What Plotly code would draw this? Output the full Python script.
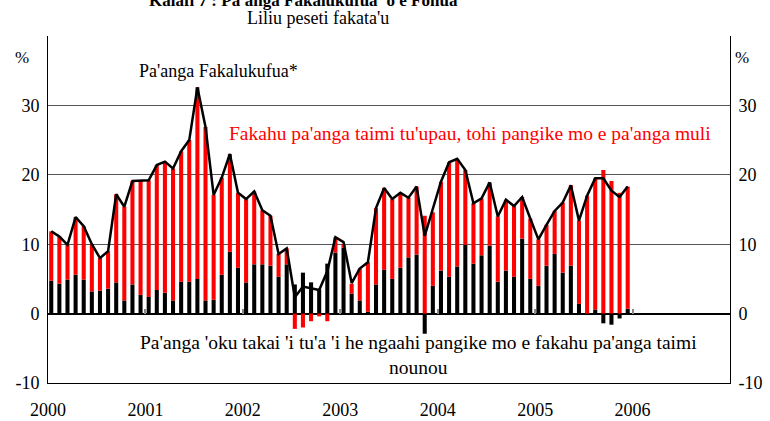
import plotly.graph_objects as go

# ---- data (monthly, Jan 2000 - Dec 2005) ----
years = [2000, 2001, 2002, 2003, 2004, 2005, 2006]
year_labels = ["2000", "2001", "2002", "2003", "2004", "2005", "2006"]

# Pa'anga 'oku takai 'i tu'a 'i he ngaahi pangike mo e fakahu pa'anga taimi nounou (black)
narrow_money = [4.75, 4.3, 4.9, 5.6, 4.9, 3.2, 3.3, 3.6, 4.5, 1.9, 4.2, 2.7,
                2.4, 3.4, 3.0, 1.9, 4.6, 4.6, 5.0, 1.9, 2.0, 5.6, 8.9, 6.6,
                4.5, 7.1, 7.1, 6.9, 5.3, 7.1, 4.2, 5.9, 4.5, 3.5, 7.2, 8.8,
                9.5, 2.9, 1.9, 0.3, 4.2, 6.3, 5.0, 6.6, 8.1, 8.5, -2.9, 4.0,
                6.2, 5.3, 6.8, 9.9, 7.2, 8.4, 9.8, 4.6, 6.2, 5.3, 10.8, 5.0,
                4.0, 6.9, 8.6, 5.9, 6.9, 1.4, 0.0, 0.6, -1.4, -1.6, -0.7, 0.7]

# Fakahu pa'anga taimi tu'upau, tohi pangike mo e pa'anga muli (red)
quasi_money = [7.1, 6.8, 5.0, 8.3, 7.7, 6.8, 4.7, 5.4, 12.7, 13.5, 14.9, 16.4,
               16.8, 18.0, 18.9, 19.0, 18.8, 20.4, 27.6, 25.0, 15.1, 14.0, 14.1, 10.8,
               12.0, 10.5, 7.8, 7.2, 3.3, 2.3, -2.2, -2.0, -1.1, -0.4, -1.1, 2.2,
               0.5, 1.4, 4.6, 7.1, 11.0, 11.8, 11.5, 10.8, 8.6, 9.8, 14.1, 10.6,
               12.8, 16.5, 15.5, 10.8, 8.7, 8.2, 9.1, 9.4, 10.2, 10.2, 6.0, 8.7,
               6.7, 5.9, 6.2, 10.1, 11.6, 12.0, 17.0, 18.9, 20.7, 19.1, 17.4, 17.6]

# Pa'anga Fakalukufua* (line)
broad_money = [11.85, 11.1, 9.9, 13.9, 12.6, 10.0, 8.0, 9.0, 17.2, 15.4, 19.1, 19.1,
               19.2, 21.4, 21.9, 20.9, 23.4, 25.0, 32.6, 26.9, 17.1, 19.6, 23.0, 17.4,
               16.5, 17.6, 14.9, 14.1, 8.6, 9.4, 2.35, 3.9, 3.6, 3.4, 6.1, 11.0,
               10.3, 4.4, 6.5, 7.4, 15.2, 18.1, 16.5, 17.4, 16.7, 18.3, 11.2, 15.2,
               19.0, 21.8, 22.3, 20.7, 15.9, 16.6, 18.9, 14.0, 16.4, 15.5, 16.8, 13.7,
               10.7, 12.8, 14.8, 16.0, 18.5, 13.4, 17.0, 19.5, 19.5, 17.7, 16.8, 18.3]

n = len(broad_money)
xpos = [2000 + (i + 0.4) / 12 for i in range(n)]

FONT = "Liberation Serif, Times New Roman, DejaVu Serif, serif"
XR = [2000, 2007]
YR = [-10, 40]
ytick = [-10, 0, 10, 20, 30, 40]
ytext = ["-10", "0", "10", "20", "30", ""]

fig = go.Figure()
fig.add_trace(go.Bar(x=xpos, y=narrow_money, width=0.5 / 12, marker_color="#000000",
                     marker_line_width=0, showlegend=False))
fig.add_trace(go.Bar(x=xpos, y=quasi_money, width=0.5 / 12, marker_color="#FF0000",
                     marker_line_width=0, showlegend=False))
fig.add_trace(go.Scatter(x=xpos, y=broad_money, mode="lines", xaxis="x2", yaxis="y2",
                         line=dict(color="#000000", width=2.5), showlegend=False))

fig.update_layout(
    width=770, height=421,
    margin=dict(l=48, r=40, t=36, b=38, autoexpand=False),
    paper_bgcolor="white", plot_bgcolor="white",
    barmode="relative",
    font=dict(family=FONT, size=16, color="#000"),
    xaxis=dict(range=XR, tickvals=years, ticktext=year_labels, showgrid=False,
               zeroline=False, showline=True, linecolor="#000", linewidth=1,
               ticks="", ticklabelstandoff=10, tickfont=dict(size=18),
               automargin=False),
    xaxis2=dict(range=XR, overlaying="x", anchor="free", position=0.2,
                tickvals=years, showticklabels=False, ticks="inside", ticklen=5,
                tickwidth=1.5, tickcolor="#888", showgrid=False, zeroline=False,
                showline=False, automargin=False),
    yaxis=dict(range=YR, tickvals=ytick, ticktext=ytext, showgrid=True,
               gridcolor="#555", gridwidth=1, zeroline=True, zerolinecolor="#000",
               zerolinewidth=1.5, showline=True, linecolor="#000", linewidth=1,
               ticks="outside", ticklen=4, tickcolor="rgba(0,0,0,0)",
               tickfont=dict(size=18), automargin=False),
    yaxis2=dict(range=YR, tickvals=ytick, ticktext=ytext, overlaying="y", side="right",
                showgrid=False, zeroline=False, showline=True, linecolor="#000",
                linewidth=1, ticks="outside", ticklen=4, tickcolor="rgba(0,0,0,0)",
                tickfont=dict(size=18), automargin=False),
)

ann = [
    dict(text="<b>Kalafi 7 : Pa'anga Fakalukufua 'o e Fonua</b>", xref="paper", yref="paper",
         x=0.374, y=1.1037, xanchor="center", yanchor="middle", font=dict(size=17)),
    dict(text="Liliu peseti fakata'u", xref="paper", yref="paper",
         x=0.396, y=1.052, xanchor="center", yanchor="middle", font=dict(size=18)),
    dict(text="%", xref="paper", yref="paper", x=-0.038, y=0.939,
         xanchor="center", yanchor="middle", font=dict(size=17)),
    dict(text="%", xref="paper", yref="paper", x=1.0176, y=0.939,
         xanchor="center", yanchor="middle", font=dict(size=17)),
    dict(text="Pa'anga Fakalukufua*", xref="x", yref="y", x=2000.91, y=35.0,
         xanchor="left", yanchor="middle", font=dict(size=18)),
    dict(text="Fakahu pa'anga taimi tu'upau, tohi pangike mo e pa'anga muli",
         xref="x", yref="y", x=2001.84, y=25.9, xanchor="left", yanchor="middle",
         font=dict(size=19.5, color="#FF0000")),
    dict(text="Pa'anga 'oku takai 'i tu'a 'i he ngaahi pangike mo e fakahu pa'anga taimi<br>nounou",
         xref="x", yref="y", x=2003.80, y=-6.0, xanchor="center", yanchor="middle",
         align="center", font=dict(size=19.5)),
]
fig.update_layout(annotations=[dict(showarrow=False, **a) for a in ann])

fig.write_html("out.html", config={"displayModeBar": False},
               post_script="document.body.style.margin='0px';")
